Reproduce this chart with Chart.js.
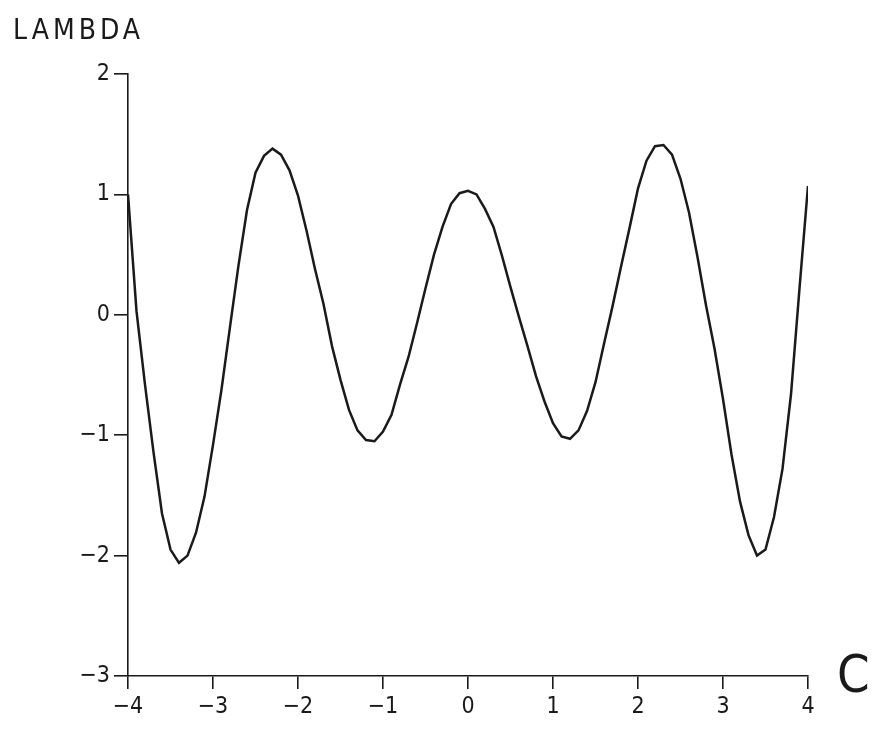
<!DOCTYPE html>
<html>
<head>
<meta charset="utf-8">
<script src="https://cdn.jsdelivr.net/npm/chart.js@4/dist/chart.umd.min.js"></script>
<style>
  html, body { margin: 0; padding: 0; background: #fff; }
  #wrap { width: 876px; height: 729px; position: relative; }
</style>
</head>
<body>
<div id="wrap"><canvas id="chart"></canvas></div>
<script>
// values, step 0.1 along C
const cValues = [
  -4.0, -3.9, -3.8, -3.7, -3.6, -3.5, -3.4, -3.3, -3.2, -3.1,
  -3.0, -2.9, -2.8, -2.7, -2.6, -2.5, -2.4, -2.3, -2.2, -2.1,
  -2.0, -1.9, -1.8, -1.7, -1.6, -1.5, -1.4, -1.3, -1.2, -1.1,
  -1.0, -0.9, -0.8, -0.7, -0.6, -0.5, -0.4, -0.3, -0.2, -0.1,
  0.0, 0.1, 0.2, 0.3, 0.4, 0.5, 0.6, 0.7, 0.8, 0.9,
  1.0, 1.1, 1.2, 1.3, 1.4, 1.5, 1.6, 1.7, 1.8, 1.9,
  2.0, 2.1, 2.2, 2.3, 2.4, 2.5, 2.6, 2.7, 2.8, 2.9,
  3.0, 3.1, 3.2, 3.3, 3.4, 3.5, 3.6, 3.7, 3.8, 3.9,
  4.0
];
const lambdaValues = [
  1.00, 0.03, -0.58, -1.14, -1.65, -1.95, -2.06, -2.00, -1.81, -1.51,
  -1.08, -0.62, -0.10, 0.41, 0.87, 1.18, 1.32, 1.38, 1.33, 1.20,
  0.99, 0.70, 0.38, 0.09, -0.26, -0.54, -0.79, -0.96, -1.04, -1.05,
  -0.97, -0.83, -0.58, -0.35, -0.07, 0.22, 0.50, 0.73, 0.92, 1.01,
  1.03, 1.00, 0.88, 0.73, 0.49, 0.23, -0.02, -0.26, -0.51, -0.72,
  -0.90, -1.01, -1.03, -0.96, -0.80, -0.56, -0.24, 0.07, 0.40, 0.72,
  1.05, 1.28, 1.40, 1.41, 1.33, 1.13, 0.85, 0.48, 0.08, -0.28,
  -0.70, -1.16, -1.55, -1.83, -2.00, -1.95, -1.68, -1.28, -0.66, 0.22,
  1.07
];
const xTicks = [-4, -3, -2, -1, 0, 1, 2, 3, 4];
const yTicks = [-3, -2, -1, 0, 1, 2];
const yTitle = 'LAMBDA';
const xTitle = 'C';

const fontFamily = '"Liberation Sans Narrow", "DejaVu Sans Condensed", "Liberation Sans", sans-serif';
const ink = '#1a1a1a';

function fmt(v) {
  return v < 0 ? '\u2212' + Math.abs(v) : String(v);
}

const axisTitles = {
  id: 'axisTitles',
  afterDraw(chart) {
    const ctx = chart.ctx;
    const area = chart.chartArea;
    ctx.save();
    ctx.fillStyle = ink;
    ctx.textBaseline = 'alphabetic';
    ctx.font = '28px ' + fontFamily;
    ctx.letterSpacing = '4px';
    ctx.textAlign = 'left';
    ctx.fillText(yTitle, 13, 39);
    ctx.letterSpacing = '0px';
    ctx.font = '52px ' + fontFamily;
    ctx.fillText(xTitle, area.right + 29, area.bottom + 16);
    ctx.restore();
  }
};

const pts = cValues.map((c, i) => ({ x: c, y: lambdaValues[i] }));

new Chart(document.getElementById('chart'), {
  type: 'line',
  data: {
    datasets: [{
      data: pts,
      borderColor: ink,
      borderWidth: 2.5,
      pointRadius: 0,
      tension: 0,
      fill: false
    }]
  },
  options: {
    responsive: true,
    maintainAspectRatio: false,
    animation: false,
    layout: { padding: { left: 0, right: 68, top: 74, bottom: 0 } },
    plugins: {
      legend: { display: false },
      tooltip: { enabled: false }
    },
    scales: {
      x: {
        type: 'linear',
        min: -4,
        max: 4,
        afterBuildTicks: (s) => { s.ticks = xTicks.map(v => ({ value: v })); },
        afterFit: (s) => { s.height = 53; },
        border: { display: true, color: ink, width: 1.6 },
        grid: { drawOnChartArea: false, drawTicks: true, tickLength: 13, color: ink, lineWidth: 1.6 },
        ticks: {
          color: ink,
          padding: 4,
          maxRotation: 0,
          font: { family: fontFamily, size: 23 },
          callback: (v) => fmt(v)
        }
      },
      y: {
        type: 'linear',
        min: -3,
        max: 2,
        afterBuildTicks: (s) => { s.ticks = yTicks.map(v => ({ value: v })); },
        afterFit: (s) => { s.width = 128; },
        border: { display: true, color: ink, width: 1.6 },
        grid: { drawOnChartArea: false, drawTicks: true, tickLength: 14, color: ink, lineWidth: 1.6 },
        ticks: {
          color: ink,
          padding: 4,
          font: { family: fontFamily, size: 23 },
          callback: (v) => fmt(v)
        }
      }
    }
  },
  plugins: [axisTitles]
});
</script>
</body>
</html>
